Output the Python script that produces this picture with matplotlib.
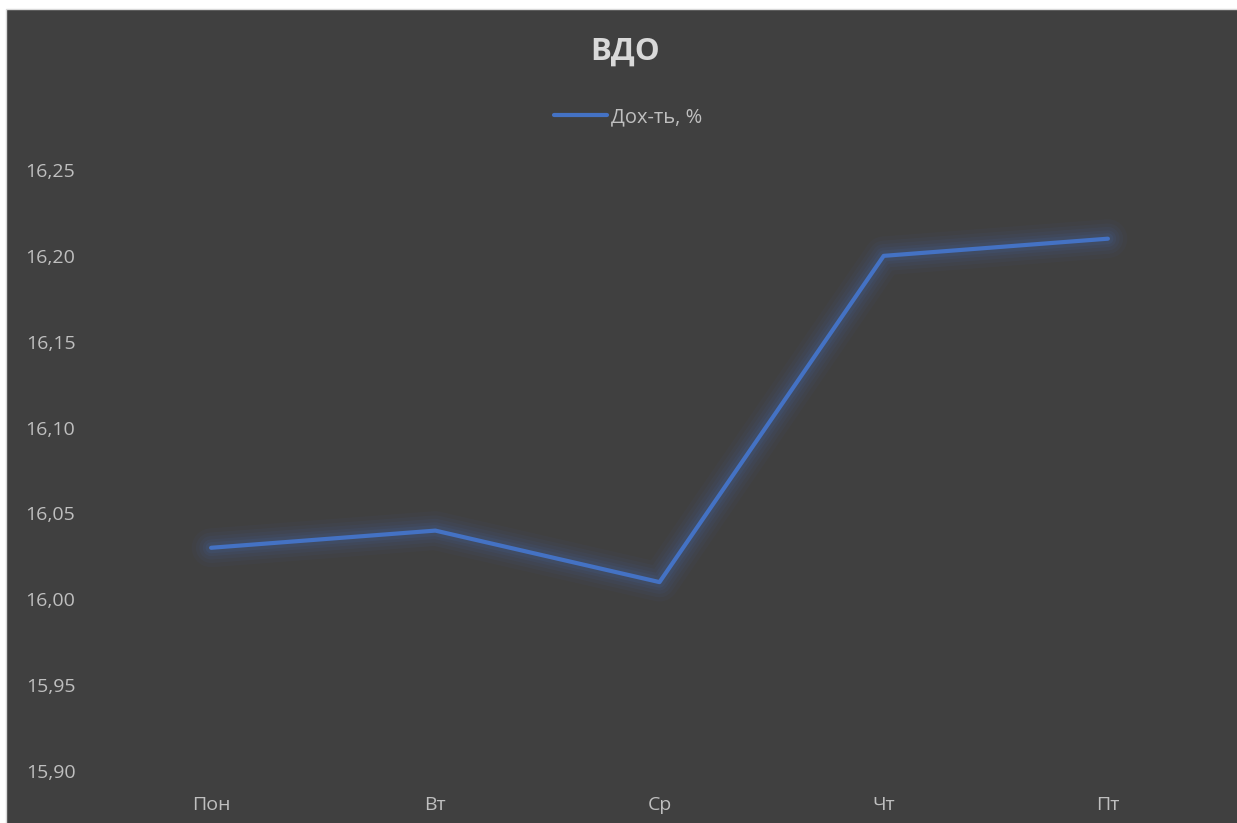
import matplotlib.pyplot as plt
from matplotlib.patches import Rectangle

# Данные
days = ['Пон', 'Вт', 'Ср', 'Чт', 'Пт']
yield_pct = [16.03, 16.04, 16.01, 16.20, 16.21]
y_ticks = [15.90, 15.95, 16.00, 16.05, 16.10, 16.15, 16.20, 16.25]

bg = '#404040'
line_color = '#4472C4'
text_color = '#BFBFBF'

plt.rcParams['font.family'] = ['Open Sans', 'DejaVu Sans']

fig = plt.figure(figsize=(12.37, 8.23), dpi=100, facecolor='white')
# тёмная область диаграммы с белым полем сверху и слева
fig.patches.append(Rectangle((6 / 1237, -0.01), 1.02 - 6 / 1237, 1.01 - 9 / 823,
                             transform=fig.transFigure, facecolor=bg,
                             edgecolor='#D9D9D9', linewidth=1, zorder=-5))

ax = fig.add_axes([99 / 1237, 1 - 771 / 823, (1220 - 99) / 1237, (771 - 170) / 823])
ax.set_facecolor('none')
ax.set_zorder(2)

x = list(range(len(days)))
# свечение вокруг линии
for lw, a in [(28, 0.04), (22, 0.05), (17, 0.06), (12, 0.08), (8, 0.1)]:
    ax.plot(x, yield_pct, color=line_color, linewidth=lw, alpha=a,
            solid_capstyle='round', solid_joinstyle='round')
line, = ax.plot(x, yield_pct, color=line_color, linewidth=3,
                solid_capstyle='round', solid_joinstyle='round', label='Дох-ть, %')

ax.set_xlim(-0.5, len(days) - 0.5)
ax.set_ylim(15.90, 16.25)
ax.set_xticks(x)
ax.set_xticklabels(days)
ax.set_yticks(y_ticks)
ax.set_yticklabels([f'{v:.2f}'.replace('.', ',') for v in y_ticks])
ax.tick_params(axis='both', length=0, colors=text_color, labelsize=14)
ax.tick_params(axis='x', pad=18)
ax.tick_params(axis='y', pad=17)
for s in ax.spines.values():
    s.set_visible(False)

fig.text(625 / 1237, 1 - 52 / 823, 'ВДО', ha='center', va='center',
         fontsize=22.5, fontweight='bold', color='#D9D9D9', zorder=3)

leg = fig.legend(handles=[line], loc='center', bbox_to_anchor=(628 / 1237, 1 - 117 / 823),
                 frameon=False, fontsize=14.5, handlelength=2.6, handletextpad=0.2)
leg.set_zorder(3)
for t in leg.get_texts():
    t.set_color(text_color)

fig.savefig('out.png', dpi=100, facecolor=fig.get_facecolor())
